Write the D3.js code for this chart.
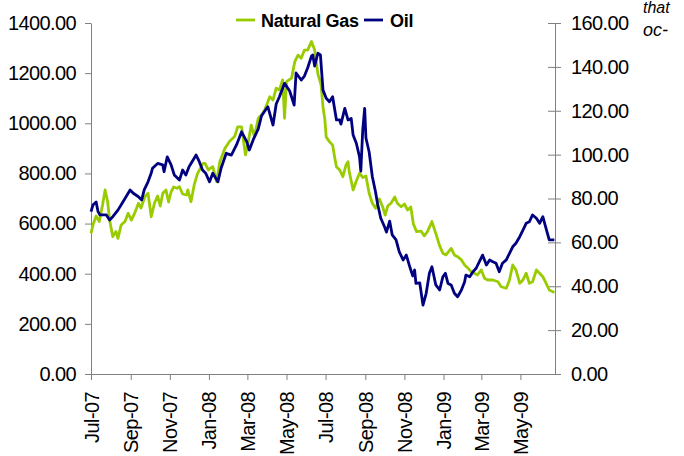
<!DOCTYPE html>
<html>
<head>
<meta charset="utf-8">
<script src="https://cdn.jsdelivr.net/npm/d3@7"></script>
<style>
  html, body { margin: 0; padding: 0; background: #ffffff; }
  svg { display: block; font-family: "Liberation Sans", Arial, sans-serif; }
</style>
</head>
<body>
<div id="chart"></div>
<script>
// ---------- DATA ----------
const seriesNames = ["Natural Gas", "Oil"];
const seriesColors = ["#99cc00", "#000080"];

const gasDates = ["2007-07-01","2007-07-04","2007-07-09","2007-07-14","2007-07-19","2007-07-23","2007-07-27","2007-07-30","2007-08-04","2007-08-09","2007-08-12","2007-08-17","2007-08-23","2007-08-28","2007-09-02","2007-09-08","2007-09-13","2007-09-17","2007-09-23","2007-09-28","2007-10-03","2007-10-08","2007-10-13","2007-10-17","2007-10-21","2007-10-26","2007-10-30","2007-11-03","2007-11-07","2007-11-12","2007-11-16","2007-11-21","2007-11-27","2007-11-29","2007-12-04","2007-12-09","2007-12-14","2007-12-20","2007-12-23","2007-12-26","2007-12-31","2008-01-07","2008-01-13","2008-01-18","2008-01-26","2008-02-02","2008-02-10","2008-02-15","2008-02-21","2008-02-27","2008-03-02","2008-03-07","2008-03-12","2008-03-18","2008-03-23","2008-03-28","2008-04-05","2008-04-10","2008-04-15","2008-04-20","2008-04-25","2008-04-28","2008-05-01","2008-05-09","2008-05-14","2008-05-19","2008-05-24","2008-05-29","2008-06-03","2008-06-09","2008-06-14","2008-06-19","2008-06-24","2008-06-27","2008-06-30","2008-07-02","2008-07-07","2008-07-12","2008-07-15","2008-07-18","2008-07-23","2008-07-28","2008-08-02","2008-08-05","2008-08-07","2008-08-13","2008-08-18","2008-08-23","2008-08-28","2008-09-02","2008-09-07","2008-09-12","2008-09-17","2008-09-23","2008-09-28","2008-10-02","2008-10-06","2008-10-11","2008-10-17","2008-10-21","2008-10-27","2008-11-01","2008-11-06","2008-11-11","2008-11-15","2008-11-20","2008-11-27","2008-12-02","2008-12-07","2008-12-14","2008-12-20","2008-12-26","2008-12-31","2009-01-05","2009-01-13","2009-01-18","2009-01-23","2009-01-29","2009-02-03","2009-02-08","2009-02-13","2009-02-18","2009-02-23","2009-03-01","2009-03-06","2009-03-11","2009-03-19","2009-03-27","2009-04-01","2009-04-09","2009-04-14","2009-04-19","2009-04-24","2009-04-30","2009-05-05","2009-05-10","2009-05-15","2009-05-20","2009-05-26","2009-05-31","2009-06-05","2009-06-10","2009-06-15","2009-06-23"];
const gasValues = [561,594,630,608,674,734,687,614,548,568,541,594,608,641,614,647,681,662,707,721,627,681,710,670,721,734,686,727,746,741,747,718,714,734,687,754,798,827,840,840,814,827,767,847,900,927,947,986,986,874,920,993,947,1020,1033,1053,1106,1093,1140,1133,1173,1020,1166,1180,1246,1272,1259,1292,1292,1326,1292,1197,1153,1065,1013,945,927,913,867,827,814,787,834,847,807,734,770,801,784,790,721,681,661,698,667,634,670,681,706,681,667,678,654,666,598,568,570,551,568,608,561,511,482,475,501,475,468,455,435,423,408,402,395,415,382,375,375,368,348,342,375,435,415,362,375,402,362,368,415,402,388,362,335,325];

const oilDates = ["2007-07-01","2007-07-04","2007-07-09","2007-07-12","2007-07-15","2007-07-25","2007-07-30","2007-08-04","2007-08-12","2007-08-20","2007-08-31","2007-09-05","2007-09-13","2007-09-18","2007-09-22","2007-09-28","2007-10-03","2007-10-05","2007-10-13","2007-10-21","2007-10-23","2007-10-28","2007-11-03","2007-11-08","2007-11-16","2007-11-21","2007-11-26","2007-12-01","2007-12-12","2007-12-17","2007-12-22","2007-12-27","2008-01-02","2008-01-07","2008-01-15","2008-01-20","2008-01-28","2008-02-05","2008-02-13","2008-02-21","2008-02-29","2008-03-04","2008-03-10","2008-03-18","2008-03-23","2008-03-31","2008-04-02","2008-04-10","2008-04-15","2008-04-20","2008-04-28","2008-05-06","2008-05-13","2008-05-16","2008-05-24","2008-05-29","2008-06-03","2008-06-09","2008-06-11","2008-06-14","2008-06-19","2008-06-23","2008-06-27","2008-07-02","2008-07-07","2008-07-12","2008-07-18","2008-07-23","2008-07-25","2008-07-31","2008-08-05","2008-08-10","2008-08-13","2008-08-18","2008-08-23","2008-08-25","2008-08-28","2008-08-31","2008-09-02","2008-09-07","2008-09-12","2008-09-17","2008-09-20","2008-09-25","2008-10-01","2008-10-04","2008-10-09","2008-10-13","2008-10-19","2008-10-24","2008-10-30","2008-11-04","2008-11-10","2008-11-14","2008-11-17","2008-11-19","2008-11-25","2008-11-30","2008-12-05","2008-12-10","2008-12-14","2008-12-20","2008-12-26","2008-12-31","2009-01-04","2009-01-08","2009-01-13","2009-01-18","2009-01-23","2009-01-29","2009-02-03","2009-02-05","2009-02-11","2009-02-16","2009-02-21","2009-02-26","2009-03-03","2009-03-09","2009-03-14","2009-03-19","2009-03-24","2009-03-29","2009-04-03","2009-04-09","2009-04-14","2009-04-19","2009-04-24","2009-04-30","2009-05-05","2009-05-10","2009-05-15","2009-05-20","2009-05-26","2009-05-31","2009-06-05","2009-06-10","2009-06-15","2009-06-23"];
const oilValues = [74.0,77.0,78.4,74.0,72.5,72.5,70.2,71.7,74.7,78.5,83.9,82.4,80.8,79.3,83.9,87.6,91.6,93.8,96.0,95.3,92.2,99.0,95.3,90.7,88.4,93.0,90.7,94.5,99.8,96.8,93.0,91.5,87.6,91.5,87.6,93.8,100.6,99.8,104.4,110.4,105.9,102.1,106.7,111.7,117.6,121.1,121.8,113.5,123.1,126.4,132.5,129.0,122.6,137.2,134.0,135.8,139.5,144.9,145.4,140.4,146.2,145.4,129.4,125.7,124.1,126.4,115.8,115.8,113.9,121.1,115.8,116.5,108.9,105.2,99.0,92.5,111.2,121.1,107.6,101.2,89.9,83.0,77.8,71.1,67.1,64.7,69.7,63.4,61.1,55.7,52.0,54.2,48.3,44.7,47.4,41.3,41.5,31.4,36.8,45.9,48.9,40.6,38.3,44.3,45.9,41.3,40.6,36.8,35.2,38.3,42.1,45.1,44.3,46.6,48.2,51.2,54.2,49.7,52.0,51.2,50.5,46.6,50.5,52.0,55.0,58.0,59.6,62.6,65.6,68.7,69.4,72.5,71.0,68.7,71.7,66.4,61.1,61.1];

const xDomain = ["2007-07-01", "2009-06-24"];
const xTickDates = ["2007-07-01","2007-09-01","2007-11-01","2008-01-01","2008-03-01","2008-05-01","2008-07-01","2008-09-01","2008-11-01","2009-01-01","2009-03-01","2009-05-01"];
const leftTicks = [0, 200, 400, 600, 800, 1000, 1200, 1400];
const rightTicks = [0, 20, 40, 60, 80, 100, 120, 140, 160];
const cornerTexts = ["that", "oc-"];

// ---------- CHART ----------
const W = 684, H = 456;
const parse = d3.timeParse("%Y-%m-%d");
const plot = { left: 91, right: 555, top: 23, bottom: 374 };

const svg = d3.select("#chart").append("svg")
  .attr("width", W).attr("height", H);
svg.append("rect").attr("width", W).attr("height", H).attr("fill", "#ffffff");

const x = d3.scaleTime().domain(xDomain.map(parse)).range([plot.left, plot.right]);
const yL = d3.scaleLinear().domain([0, 1400]).range([plot.bottom, plot.top]);
const yR = d3.scaleLinear().domain([0, 160]).range([plot.bottom, plot.top]);

const axisColor = "#808080";
const fontSize = 20;

function styleAxis(g) {
  g.select(".domain").attr("stroke", axisColor).attr("stroke-width", 1);
  g.selectAll(".tick line").attr("stroke", axisColor).attr("stroke-width", 1);
  g.selectAll(".tick text")
    .attr("fill", "#000")
    .style("font-size", fontSize + "px")
    .style("letter-spacing", "-0.6px");
}

// Left axis
const gL = svg.append("g").attr("transform", `translate(${plot.left},0)`)
  .call(d3.axisLeft(yL).tickValues(leftTicks).tickFormat(d3.format(".2f"))
    .tickSize(6).tickSizeOuter(0).tickPadding(9));
styleAxis(gL);

// Right axis (cross ticks)
const gR = svg.append("g").attr("transform", `translate(${plot.right},0)`)
  .call(d3.axisRight(yR).tickValues(rightTicks).tickFormat(d3.format(".2f"))
    .tickSize(6).tickSizeOuter(0).tickPadding(10));
gR.selectAll(".tick line").attr("x1", -7).attr("x2", 6);
styleAxis(gR);

// Bottom axis
const gB = svg.append("g").attr("transform", `translate(0,${plot.bottom})`)
  .call(d3.axisBottom(x).tickValues(xTickDates.map(parse))
    .tickFormat(d3.timeFormat("%b-%y")).tickSize(6).tickSizeOuter(0));
styleAxis(gB);
gB.selectAll(".tick text")
  .attr("transform", "rotate(-90)")
  .attr("text-anchor", "end")
  .attr("x", -18)
  .attr("y", 0)
  .attr("dy", "0.35em");

// Lines
const gasData = gasDates.map((d, i) => ({ date: parse(d), value: gasValues[i] }));
const oilData = oilDates.map((d, i) => ({ date: parse(d), value: oilValues[i] }));

const lineL = d3.line().x(d => x(d.date)).y(d => yL(d.value));
const lineR = d3.line().x(d => x(d.date)).y(d => yR(d.value));

svg.append("path").datum(gasData)
  .attr("d", lineL).attr("fill", "none")
  .attr("stroke", seriesColors[0]).attr("stroke-width", 2.8)
  .attr("stroke-linejoin", "round");
svg.append("path").datum(oilData)
  .attr("d", lineR).attr("fill", "none")
  .attr("stroke", seriesColors[1]).attr("stroke-width", 2.8)
  .attr("stroke-linejoin", "round");

// Legend
const legend = svg.append("g");
const legendItems = [
  { name: seriesNames[0], color: seriesColors[0], lx: 236, tx: 261 },
  { name: seriesNames[1], color: seriesColors[1], lx: 364, tx: 390 }
];
legendItems.forEach(it => {
  legend.append("line")
    .attr("x1", it.lx).attr("x2", it.lx + 19)
    .attr("y1", 20).attr("y2", 20)
    .attr("stroke", it.color).attr("stroke-width", 2.8);
  legend.append("text")
    .attr("x", it.tx).attr("y", 26.5)
    .attr("fill", "#000")
    .style("font-size", "18px").style("font-weight", "bold")
    .style("letter-spacing", "-0.3px")
    .text(it.name);
});

// Corner text fragments (from surrounding document)
svg.append("text").attr("x", 643).attr("y", 13)
  .style("font-size", "16px").style("font-style", "italic")
  .attr("fill", "#000").text(cornerTexts[0]);
svg.append("text").attr("x", 643).attr("y", 36)
  .style("font-size", "18px").style("font-style", "italic")
  .attr("fill", "#000").text(cornerTexts[1]);
</script>
</body>
</html>
